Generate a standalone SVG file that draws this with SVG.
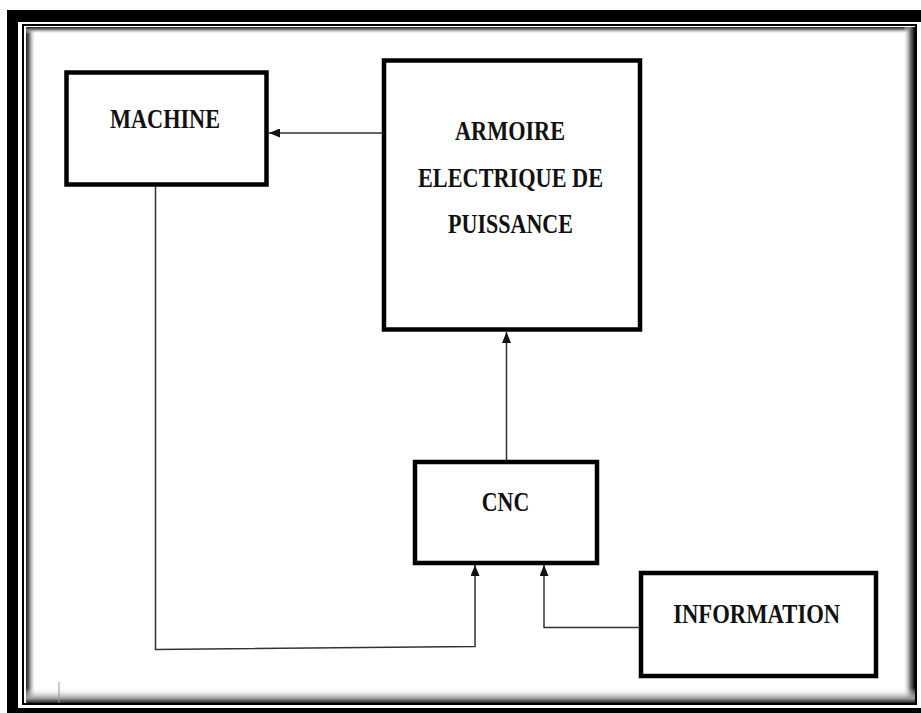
<svg xmlns="http://www.w3.org/2000/svg" width="921" height="713" viewBox="0 0 921 713">
<style>
.box{fill:#fff;stroke:#000;stroke-width:4.5}
.lbl{font-family:"Liberation Serif","Times New Roman",serif;font-weight:bold;font-size:27px;fill:#111;text-anchor:middle}
.conn{fill:none;stroke:#333;stroke-width:1.5}
</style>
<defs>
<marker id="arr" viewBox="0 0 11 9" refX="11" refY="4.5" markerWidth="11" markerHeight="9" markerUnits="userSpaceOnUse" orient="auto">
<path d="M0,0 L11,4.5 L0,9 Z" fill="#111"/>
</marker>
<linearGradient id="gL" x1="0" y1="0" x2="1" y2="0"><stop offset="0" stop-color="#222"/><stop offset="0.3" stop-color="#666"/><stop offset="1" stop-color="#fff" stop-opacity="0"/></linearGradient>
<linearGradient id="gT" x1="0" y1="0" x2="0" y2="1"><stop offset="0" stop-color="#222"/><stop offset="0.35" stop-color="#777"/><stop offset="1" stop-color="#fff" stop-opacity="0"/></linearGradient>
<linearGradient id="gR" x1="0" y1="0" x2="1" y2="0"><stop offset="0" stop-color="#fff" stop-opacity="0"/><stop offset="0.6" stop-color="#777"/><stop offset="1" stop-color="#000"/></linearGradient>
<linearGradient id="gB" x1="0" y1="0" x2="0" y2="1"><stop offset="0" stop-color="#fff" stop-opacity="0"/><stop offset="0.7" stop-color="#999"/><stop offset="1" stop-color="#222"/></linearGradient>
</defs>
<rect x="0" y="0" width="921" height="713" fill="#fff"/>
<g id="frame">
<rect x="7" y="10" width="930" height="720" fill="#000"/>
<rect x="18" y="22" width="920" height="686" fill="#fff"/>
<rect x="23" y="25" width="893" height="679" fill="none" stroke="#000" stroke-width="2"/>
<rect x="26" y="27" width="10" height="676" fill="url(#gL)"/>
<rect x="26" y="27" width="888" height="7" fill="url(#gT)"/>
<rect x="903" y="27" width="12" height="676" fill="url(#gR)"/>
<rect x="26" y="688" width="889" height="15" fill="url(#gB)"/>
<line x1="59" y1="682" x2="59" y2="703" stroke="#999" stroke-width="1"/>
</g>
<g id="connectors">
<line class="conn" x1="384" y1="133" x2="269" y2="133" marker-end="url(#arr)"/>
<line class="conn" x1="506.5" y1="462" x2="506.5" y2="332" marker-end="url(#arr)"/>
<polyline class="conn" points="641,627.5 544,627.5 544,565" marker-end="url(#arr)"/>
<polyline class="conn" points="155.5,184 155.5,649.5 475,646.5 475,565" marker-end="url(#arr)"/>
</g>
<g id="machine">
<rect class="box" x="66.5" y="72.5" width="200" height="112"/>
<text class="lbl" x="165" y="128" textLength="110" lengthAdjust="spacingAndGlyphs">MACHINE</text>
</g>
<g id="armoire">
<rect class="box" x="384" y="60.5" width="256" height="269"/>
<text class="lbl" x="510" y="140" textLength="110" lengthAdjust="spacingAndGlyphs">ARMOIRE</text>
<text class="lbl" x="510.5" y="186.5" textLength="185" lengthAdjust="spacingAndGlyphs">ELECTRIQUE DE</text>
<text class="lbl" x="510.5" y="233" textLength="125" lengthAdjust="spacingAndGlyphs">PUISSANCE</text>
</g>
<g id="cnc">
<rect class="box" x="415" y="462" width="182" height="101"/>
<text class="lbl" x="505.5" y="510.5" textLength="47.5" lengthAdjust="spacingAndGlyphs">CNC</text>
</g>
<g id="information">
<rect class="box" x="641" y="573" width="235" height="103"/>
<text class="lbl" x="756.7" y="622.7" textLength="167" lengthAdjust="spacingAndGlyphs">INFORMATION</text>
</g>
</svg>
